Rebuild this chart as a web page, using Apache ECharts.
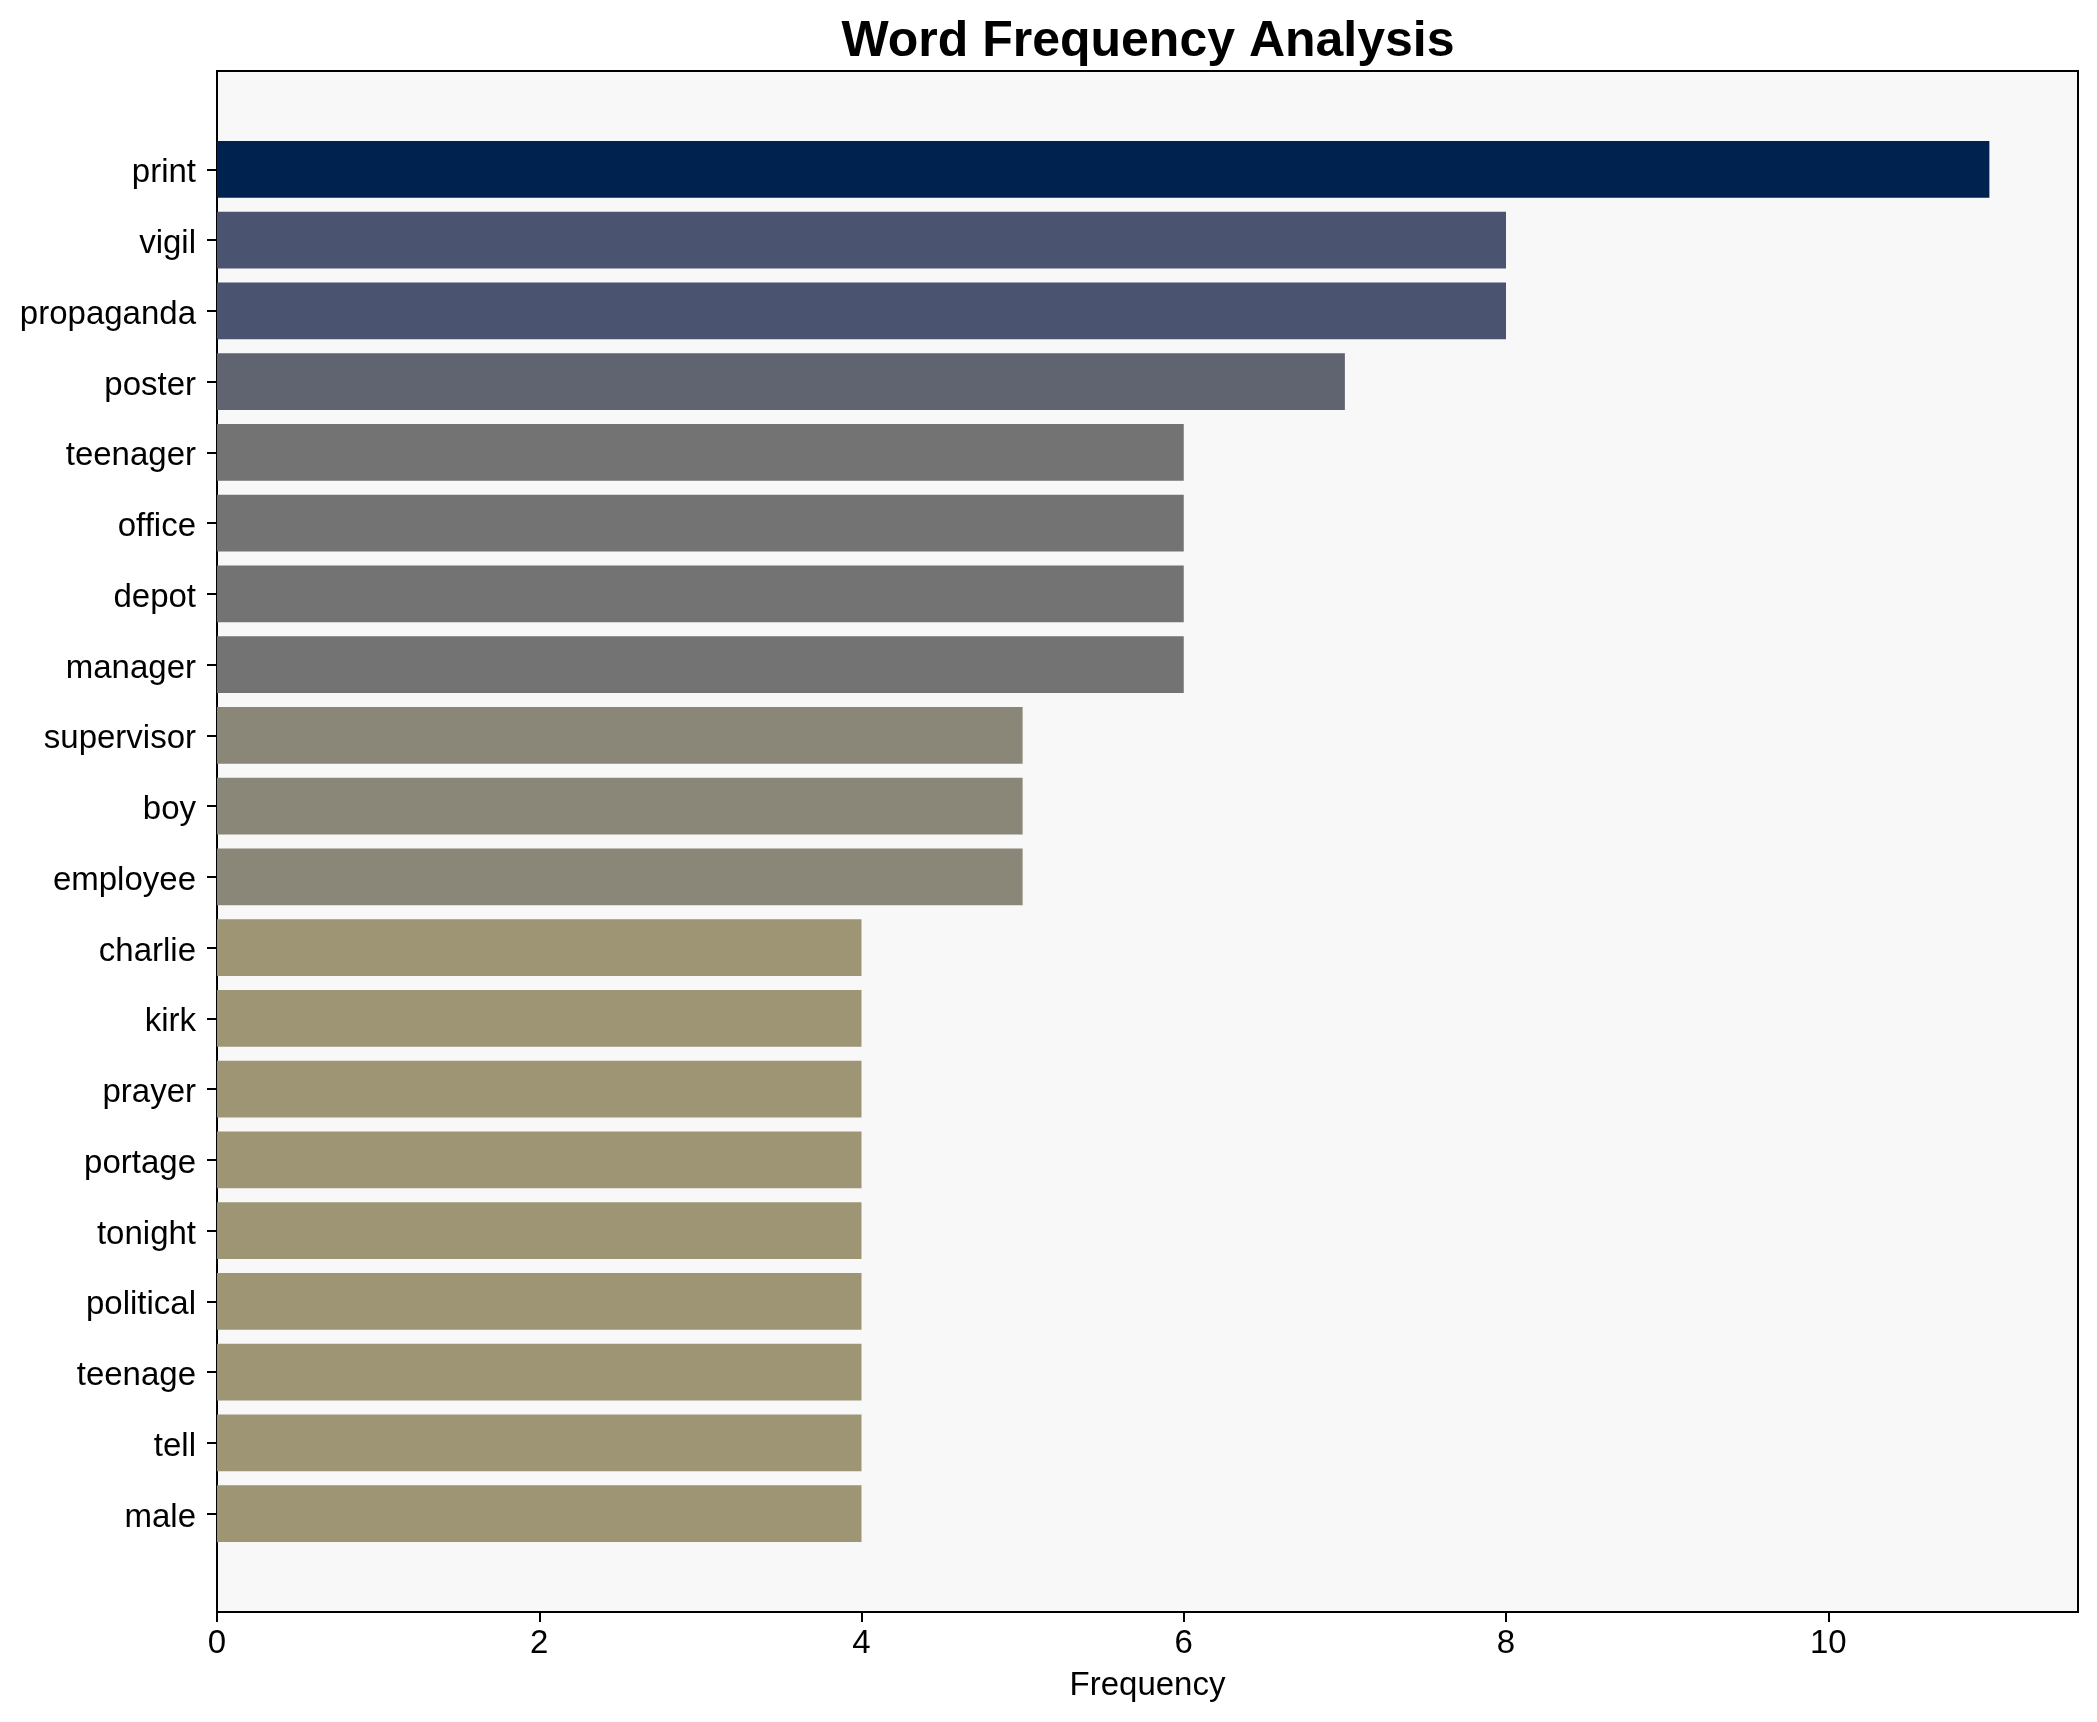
<!DOCTYPE html>
<html>
<head>
<meta charset="utf-8">
<script src="https://cdn.jsdelivr.net/npm/echarts@6/dist/echarts.min.js"></script>
<style>
html,body{margin:0;padding:0;background:#ffffff;}
#chart{width:2097px;height:1722px;}
</style>
</head>
<body>
<div id="chart"></div>
<script>
const categories = ["print","vigil","propaganda","poster","teenager","office","depot","manager","supervisor","boy","employee","charlie","kirk","prayer","portage","tonight","political","teenage","tell","male"];
const frequencies = [11,8,8,7,6,6,6,6,5,5,5,4,4,4,4,4,4,4,4,4];
const xTicks = [0,2,4,6,8,10];

const colorByValue = {11:"#00224e",8:"#4a5470",7:"#5f6470",6:"#737374",5:"#8a8778",4:"#9e9575"};
const FONT = "Liberation Sans, Arial, Helvetica, sans-serif";
const chart = echarts.init(document.getElementById('chart'), null, {renderer:'canvas'});
const L = 217, R = 19, T = 71, B = 110, PAD = 63;
const XMAX = 11.55;

chart.setOption({
  animation:false,
  backgroundColor:'#ffffff',
  title:{
    text:'Word Frequency Analysis',
    left:1143, top:12, textAlign:'center',
    textStyle:{fontFamily:FONT,fontSize:50,fontWeight:'bold',color:'#000'}
  },
  grid:[
    {left:L,right:R,top:T,bottom:B,show:true,backgroundColor:'#f8f8f8',borderColor:'#000',borderWidth:2,containLabel:false},
    {left:L,right:R,top:T+PAD,bottom:B+PAD,show:false,containLabel:false}
  ],
  xAxis:[
    {type:'value',gridIndex:0,min:0,max:XMAX,interval:2,
     axisLine:{show:true,lineStyle:{color:'#000',width:2}},
     axisTick:{show:true,length:10,lineStyle:{color:'#000',width:2},customValues:xTicks},
     axisLabel:{show:true,margin:15,fontFamily:FONT,fontSize:33,color:'#000',customValues:xTicks},
     splitLine:{show:false},
     name:'Frequency',nameLocation:'middle',nameGap:57,
     nameTextStyle:{fontFamily:FONT,fontSize:33,color:'#000'}},
    {type:'value',gridIndex:1,min:0,max:XMAX,show:false,splitLine:{show:false}}
  ],
  yAxis:[
    {type:'value',gridIndex:0,show:false,min:0,max:1,splitLine:{show:false}},
    {type:'category',gridIndex:1,data:categories,inverse:true,
     axisLine:{show:false},
     axisTick:{show:true,length:10,alignWithLabel:true,lineStyle:{color:'#000',width:2}},
     axisLabel:{margin:21,fontFamily:FONT,fontSize:33,color:'#000',
       formatter:function(v){return '{a|'+v+'}';},
       rich:{a:{fontFamily:FONT,fontSize:33,color:'#000',padding:[8,0,0,0]}}},
     splitLine:{show:false}}
  ],
  series:[{
    type:'bar',xAxisIndex:1,yAxisIndex:1,
    data:frequencies,
    barCategoryGap:'20%',
    itemStyle:{color:function(p){return colorByValue[p.value] || '#9e9575';}}
  }]
});
</script>
</body>
</html>
